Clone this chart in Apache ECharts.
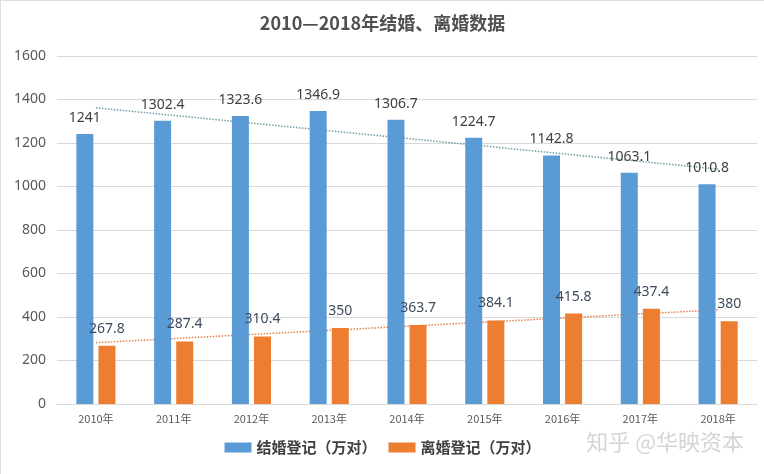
<!DOCTYPE html>
<html>
<head>
<meta charset="utf-8">
<script src="https://cdn.jsdelivr.net/npm/echarts@6/dist/echarts.min.js"></script>
<style>
html,body{margin:0;padding:0;background:#fff;}
#c{width:764px;height:474px;box-sizing:border-box;border-left:1px solid #dedede;border-top:1px solid #dedede;}
</style>
</head>
<body>
<div id="c"></div>
<script>
var categories = ['2010年','2011年','2012年','2013年','2014年','2015年','2016年','2017年','2018年'];
var marriage = [1241, 1302.4, 1323.6, 1346.9, 1306.7, 1224.7, 1142.8, 1063.1, 1010.8];
var divorce = [267.8, 287.4, 310.4, 350, 363.7, 384.1, 415.8, 437.4, 380];
// trend line endpoints
var marriageTrend = [1362, null, null, null, null, null, null, null, 1080];
var divorceTrend = [282, null, null, null, null, null, null, null, 433];
var yTicks = [0, 200, 400, 600, 800, 1000, 1200, 1400, 1600];
var seriesNames = ['结婚登记（万对）', '离婚登记（万对）'];

var chart = echarts.init(document.getElementById('c'));
chart.setOption({
  animation: false,
  title: {
    text: '2010—2018年结婚、离婚数据',
    left: 'center',
    top: 8,
    textStyle: {fontFamily: 'Noto Sans CJK SC', fontSize: 18, fontWeight: 'bold', color: '#505050'}
  },
  legend: {
    data: seriesNames,
    bottom: 14,
    left: 'center',
    icon: 'rect',
    itemWidth: 27,
    itemHeight: 10,
    itemGap: 12,
    textStyle: {fontFamily: 'Noto Sans CJK SC', fontSize: 15, fontWeight: 'bold', color: '#404040'}
  },
  grid: {left: 56, right: 7, top: 55, bottom: 70},
  xAxis: {
    type: 'category',
    data: categories,
    axisLine: {lineStyle: {color: '#d9d9d9', width: 1}},
    axisTick: {show: false},
    axisLabel: {color: '#595959', fontSize: 11, fontFamily: 'Noto Sans CJK SC', margin: 9}
  },
  yAxis: {
    type: 'value',
    min: yTicks[0],
    max: yTicks[yTicks.length - 1],
    interval: 200,
    axisLine: {show: false},
    axisTick: {show: false},
    splitLine: {lineStyle: {color: '#d9d9d9'}},
    axisLabel: {color: '#595959', fontSize: 14, fontFamily: 'Noto Sans', margin: 11,
      formatter: function (v) { return String(v); }}
  },
  graphic: [{
    type: 'text',
    right: 20,
    top: 430,
    style: {text: '知乎 @华映资本', fill: 'rgba(195,195,195,0.7)', font: '22px "Noto Sans CJK SC"'}
  }],
  series: [
    {
      name: seriesNames[0],
      type: 'bar',
      data: marriage,
      barWidth: 17,
      barGap: '30%',
      z: 3,
      itemStyle: {color: '#5b9bd5'},
      label: {show: true, position: 'top', distance: 9, color: '#404040', fontSize: 14, fontFamily: 'Noto Sans'}
    },
    {
      name: seriesNames[1],
      type: 'bar',
      data: divorce,
      barWidth: 17,
      barGap: '30%',
      z: 3,
      itemStyle: {color: '#ed7d31'},
      label: {show: true, position: 'top', distance: 10, color: '#3e4b5e', fontSize: 14, fontFamily: 'Noto Sans'}
    },
    {
      type: 'line',
      data: marriageTrend,
      connectNulls: true,
      symbol: 'none',
      z: 1,
      silent: true,
      lineStyle: {color: '#6f9ea6', width: 1.5, type: 'dotted'}
    },
    {
      type: 'line',
      data: divorceTrend,
      connectNulls: true,
      symbol: 'none',
      z: 1,
      silent: true,
      lineStyle: {color: '#e2804a', width: 1.5, type: 'dotted'}
    }
  ]
});
</script>
</body>
</html>
